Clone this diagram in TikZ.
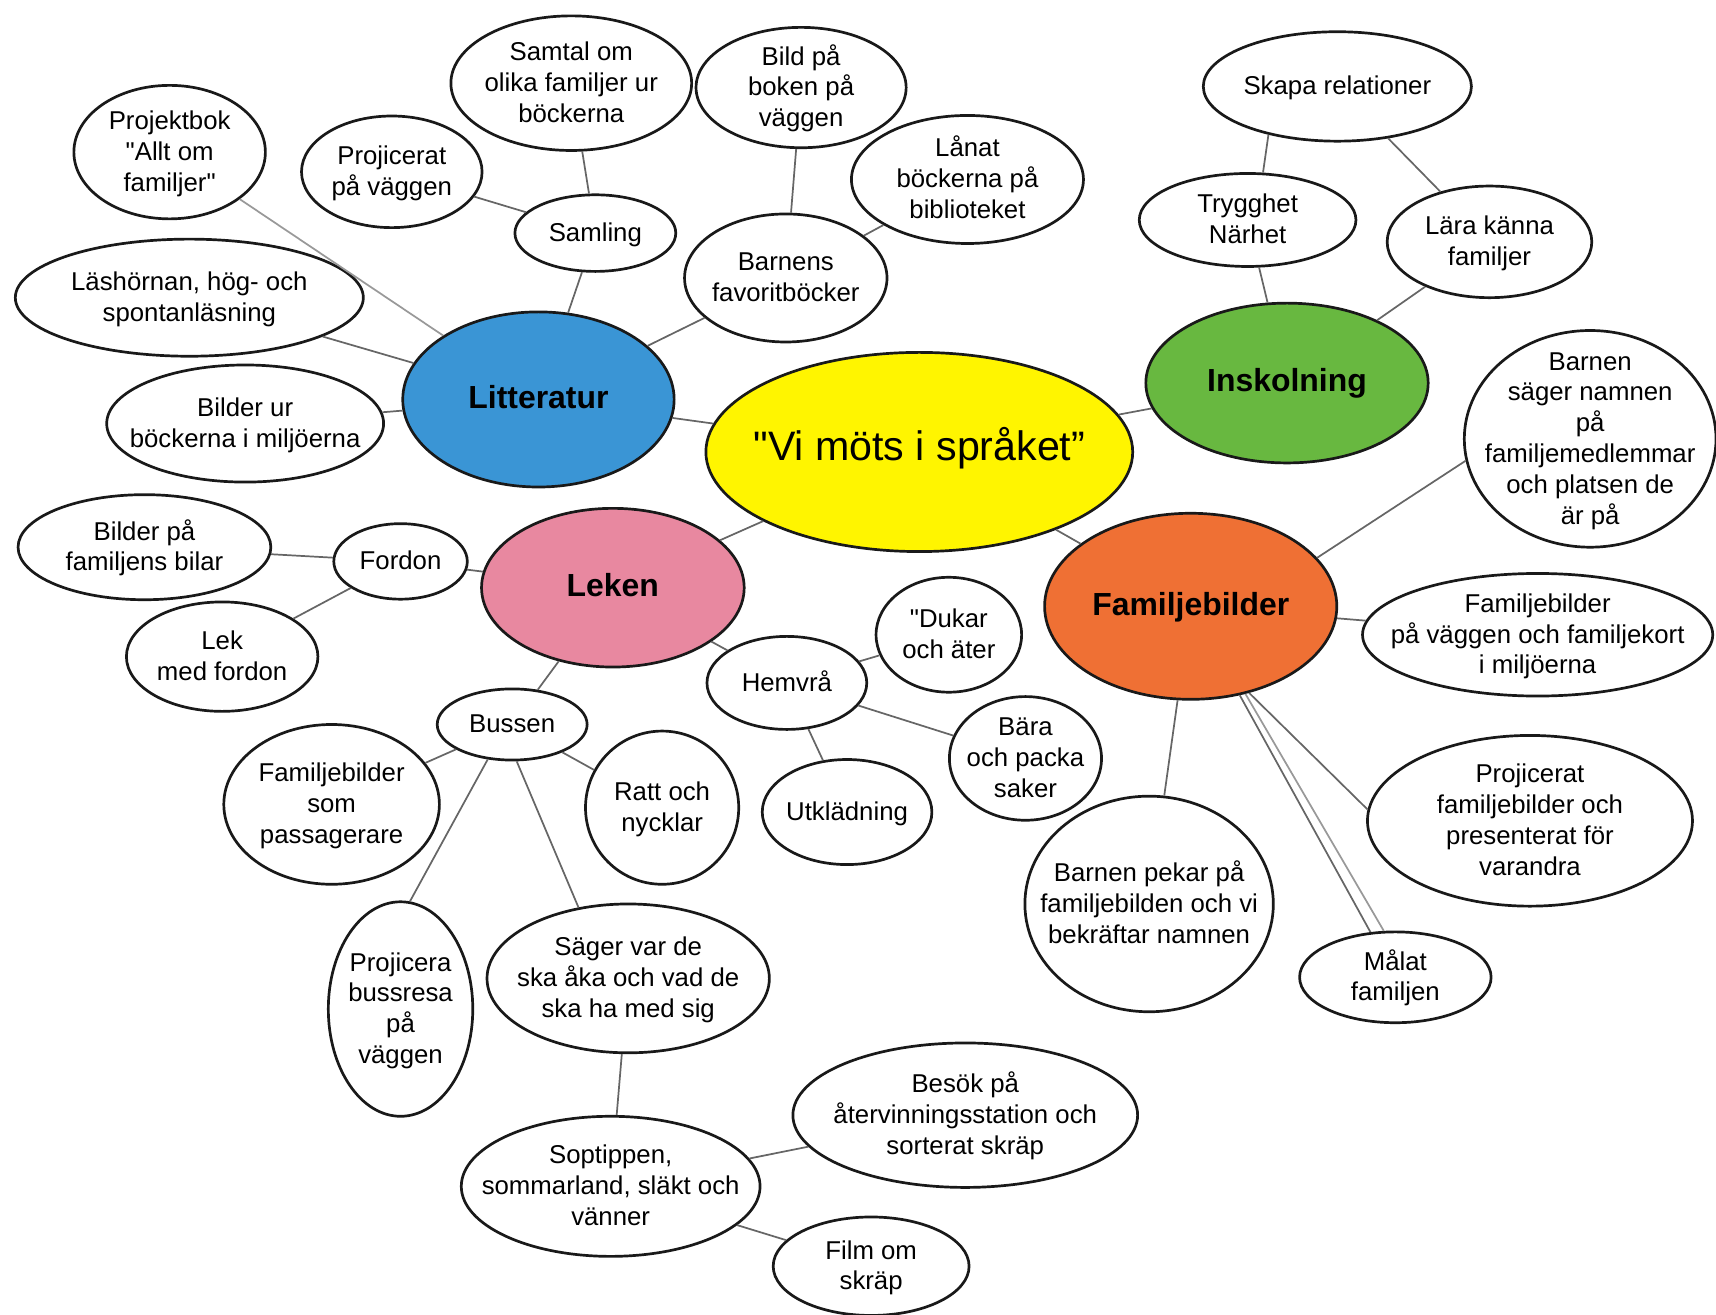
\documentclass[tikz,border=0pt]{standalone}
\usepackage{fontspec}
\setmainfont{Liberation Sans}[Ligatures=TeXOff]
\usetikzlibrary{shapes.geometric}
\definecolor{viyellow}{RGB}{255,245,0}
\definecolor{litblue}{RGB}{58,149,213}
\definecolor{inskgreen}{RGB}{104,184,64}
\definecolor{lekpink}{RGB}{232,136,160}
\definecolor{famorange}{RGB}{239,112,52}
\newcommand{\tx}[1]{\smash{\makebox[0pt]{\raisebox{-2.3pt}{\begin{tabular}{@{}c@{}}#1\end{tabular}}}}}

\begin{document}
\begin{tikzpicture}[
    bub/.style 2 args={ellipse, draw=black!90, line width=0.7pt, fill=white,
        minimum width=#1cm, minimum height=#2cm, inner sep=0pt,
        font=\fontsize{6.7}{8}\selectfont},
    theme/.style={font=\bfseries\fontsize{8.3}{10}\selectfont},
    link/.style={draw=black!60, line width=0.45pt}]
    \useasboundingbox (0,0) rectangle (15.68,-12.01);
    % the middle and the four themes
    \node[bub={3.90}{1.82}, fill=viyellow, font=\fontsize{10.7}{13}\selectfont] (vi) at (8.40,-4.13) {\tx{"Vi möts i språket”}};
    \node[bub={2.48}{1.60}, fill=litblue, theme] (lit) at (4.92,-3.65) {\tx{Litteratur}};
    \node[bub={2.58}{1.46}, fill=inskgreen, theme] (insk) at (11.76,-3.50) {\tx{Inskolning}};
    \node[bub={2.40}{1.45}, fill=lekpink, theme] (lek) at (5.60,-5.37) {\tx{Leken}};
    \node[bub={2.67}{1.70}, fill=famorange, theme] (famb) at (10.88,-5.54) {\tx{Familjebilder}};
    % Litteratur
    \node[bub={1.75}{1.22}] (projbok) at (1.55,-1.39) {\tx{Projektbok\\"Allt om\\familjer"}};
    \node[bub={1.65}{1.02}] (projvagg) at (3.58,-1.57) {\tx{Projicerat\\på väggen}};
    \node[bub={2.20}{1.23}] (samtal) at (5.22,-0.76) {\tx{Samtal om\\olika familjer ur\\böckerna}};
    \node[bub={1.47}{0.70}] (samling) at (5.44,-2.13) {\tx{Samling}};
    \node[bub={1.92}{1.10}] (bild) at (7.32,-0.80) {\tx{Bild på\\boken på\\väggen}};
    \node[bub={2.12}{1.17}] (lanat) at (8.84,-1.64) {\tx{Lånat\\böckerna på\\biblioteket}};
    \node[bub={1.85}{1.17}] (favbok) at (7.18,-2.54) {\tx{Barnens\\favoritböcker}};
    \node[bub={3.18}{1.07}] (lashorna) at (1.73,-2.72) {\tx{Läshörnan, hög- och\\spontanläsning}};
    \node[bub={2.53}{1.07}] (bilderur) at (2.24,-3.87) {\tx{Bilder ur\\böckerna i miljöerna}};
    % Inskolning
    \node[bub={2.45}{1.00}] (skapa) at (12.22,-0.79) {\tx{Skapa relationer}};
    \node[bub={1.98}{0.85}] (tryg) at (11.40,-2.01) {\tx{Trygghet\\Närhet}};
    \node[bub={1.87}{1.02}] (lara) at (13.61,-2.21) {\tx{Lära känna\\familjer}};
    % Familjebilder
    \node[bub={2.30}{1.98}] (barnsag) at (14.53,-4.01) {\tx{Barnen\\säger namnen\\på\\familjemedlemmar\\och platsen de\\är på}};
    \node[bub={3.20}{1.12}] (famvagg) at (14.05,-5.80) {\tx{Familjebilder\\på väggen och familjekort\\i miljöerna}};
    \node[bub={2.97}{1.56}] (projfam) at (13.98,-7.50) {\tx{Projicerat\\familjebilder och\\presenterat för\\varandra}};
    \node[bub={1.75}{0.83}] (malat) at (12.75,-8.93) {\tx{Målat\\familjen}};
    \node[bub={2.27}{1.97}] (pekar) at (10.50,-8.26) {\tx{Barnen pekar på\\familjebilden och vi\\bekräftar namnen}};
    % Leken
    \node[bub={1.22}{0.69}] (fordon) at (3.66,-5.13) {\tx{Fordon}};
    \node[bub={2.31}{0.96}] (bilfam) at (1.32,-5.00) {\tx{Bilder på\\familjens bilar}};
    \node[bub={1.75}{1.00}] (lekford) at (2.03,-6.00) {\tx{Lek\\med fordon}};
    \node[bub={1.37}{0.65}] (bussen) at (4.68,-6.62) {\tx{Bussen}};
    \node[bub={1.97}{1.46}] (passag) at (3.03,-7.35) {\tx{Familjebilder\\som\\passagerare}};
    \node[bub={1.40}{1.40}] (ratt) at (6.05,-7.38) {\tx{Ratt och\\nycklar}};
    \node[bub={1.32}{1.96}] (projbuss) at (3.66,-9.22) {\tx{Projicera\\bussresa\\på\\väggen}};
    \node[bub={2.58}{1.36}] (sager) at (5.74,-8.94) {\tx{Säger var de\\ska åka och vad de\\ska ha med sig}};
    \node[bub={2.73}{1.28}] (sop) at (5.58,-10.84) {\tx{Soptippen,\\sommarland, släkt och\\vänner}};
    \node[bub={3.15}{1.32}] (besok) at (8.82,-10.19) {\tx{Besök på\\återvinningsstation och\\sorterat skräp}};
    \node[bub={1.79}{0.90}] (film) at (7.96,-11.57) {\tx{Film om\\skräp}};
    \node[bub={1.46}{0.85}] (hemvra) at (7.19,-6.24) {\tx{Hemvrå}};
    \node[bub={1.33}{1.05}] (dukar) at (8.67,-5.80) {\tx{"Dukar\\och äter}};
    \node[bub={1.39}{1.13}] (bara) at (9.37,-6.93) {\tx{Bära\\och packa\\saker}};
    \node[bub={1.55}{0.96}] (utkl) at (7.74,-7.42) {\tx{Utklädning}};
    % connectors
    \draw[link] (vi) -- (lit);
    \draw[link] (vi) -- (insk);
    \draw[link] (vi) -- (lek);
    \draw[link] (vi) -- (famb);
    \draw[link, draw=black!40] (lit) -- (projbok);
    \draw[link] (lit) -- (lashorna);
    \draw[link] (lit) -- (bilderur);
    \draw[link] (lit) -- (samling);
    \draw[link] (lit) -- (favbok);
    \draw[link] (samling) -- (projvagg);
    \draw[link] (samling) -- (samtal);
    \draw[link] (favbok) -- (bild);
    \draw[link] (favbok) -- (lanat);
    \draw[link] (insk) -- (tryg);
    \draw[link] (insk) -- (lara);
    \draw[link] (skapa.215) -- (tryg.72);
    \draw[link] (skapa) -- (lara);
    \draw[link] (famb.21) -- (barnsag.190);
    \draw[link] (famb) -- (famvagg);
    \draw[link] (famb.-56) -- (projfam.176);
    \draw[link] (famb) -- (malat);
    \draw[link, draw=black!40] (famb.-58) -- (malat.104);
    \draw[link] (famb) -- (pekar);
    \draw[link] (lek) -- (fordon);
    \draw[link] (fordon) -- (bilfam);
    \draw[link] (fordon) -- (lekford);
    \draw[link] (lek) -- (bussen);
    \draw[link] (lek) -- (hemvra);
    \draw[link] (hemvra) -- (dukar);
    \draw[link] (hemvra) -- (bara);
    \draw[link] (hemvra) -- (utkl);
    \draw[link] (bussen) -- (passag);
    \draw[link] (bussen) -- (ratt);
    \draw[link] (bussen.235) -- (projbuss.85);
    \draw[link] (bussen.277) -- (sager.125);
    \draw[link] (sager) -- (sop);
    \draw[link] (sop) -- (besok);
    \draw[link] (sop) -- (film);
\end{tikzpicture}
\end{document}
